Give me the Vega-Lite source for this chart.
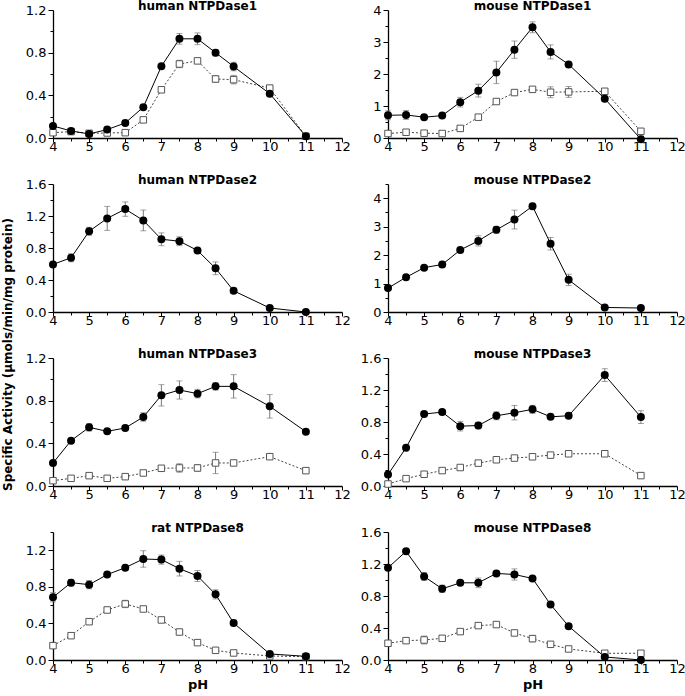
{
"$schema":"https://vega.github.io/schema/vega-lite/v6.json",
"padding":{"left":2,"top":0,"right":5,"bottom":3},
"title":{"text":"Specific Activity (µmols/min/mg protein)","orient":"left","anchor":"middle","font":"DejaVu Sans","fontSize":12,"fontWeight":"bold","color":"black","offset":10,"dx":-9},
"config":{"view":{"stroke":null},
"axis":{"domainColor":"black","domainWidth":1.3,"tickColor":"black","tickWidth":1,"labelFont":"DejaVu Sans","labelFontSize":13,"labelColor":"black","grid":false,"labelPadding":2,"titleFont":"DejaVu Sans","titleFontWeight":"bold","titleFontSize":13,"titleColor":"black","labelFlush":false,"labelOverlap":false},
"axisX":{"labelPadding":-2},
"title":{"font":"DejaVu Sans","fontSize":12,"fontWeight":"bold","color":"black","offset":-9}},
"data":{"values":[
{"panel":"h1","series":"filled","pH":4,"activity":0.113,"err":0.02},
{"panel":"h1","series":"filled","pH":4.5,"activity":0.066,"err":0},
{"panel":"h1","series":"filled","pH":5,"activity":0.038,"err":0},
{"panel":"h1","series":"filled","pH":5.5,"activity":0.079,"err":0},
{"panel":"h1","series":"filled","pH":6,"activity":0.141,"err":0},
{"panel":"h1","series":"filled","pH":6.5,"activity":0.289,"err":0},
{"panel":"h1","series":"filled","pH":7,"activity":0.672,"err":0},
{"panel":"h1","series":"filled","pH":7.5,"activity":0.93,"err":0.05},
{"panel":"h1","series":"filled","pH":8,"activity":0.93,"err":0.055},
{"panel":"h1","series":"filled","pH":8.5,"activity":0.8,"err":0.03},
{"panel":"h1","series":"filled","pH":9,"activity":0.67,"err":0.04},
{"panel":"h1","series":"filled","pH":10,"activity":0.415,"err":0.02},
{"panel":"h1","series":"filled","pH":11,"activity":0.016,"err":0},
{"panel":"h1","series":"open","pH":4,"activity":0.05,"err":0},
{"panel":"h1","series":"open","pH":4.5,"activity":0.06,"err":0},
{"panel":"h1","series":"open","pH":5,"activity":0.044,"err":0},
{"panel":"h1","series":"open","pH":5.5,"activity":0.047,"err":0},
{"panel":"h1","series":"open","pH":6,"activity":0.05,"err":0},
{"panel":"h1","series":"open","pH":6.5,"activity":0.17,"err":0},
{"panel":"h1","series":"open","pH":7,"activity":0.452,"err":0},
{"panel":"h1","series":"open","pH":7.5,"activity":0.694,"err":0.035},
{"panel":"h1","series":"open","pH":8,"activity":0.723,"err":0.02},
{"panel":"h1","series":"open","pH":8.5,"activity":0.553,"err":0.03},
{"panel":"h1","series":"open","pH":9,"activity":0.547,"err":0.04},
{"panel":"h1","series":"open","pH":10,"activity":0.468,"err":0.015},
{"panel":"h1","series":"open","pH":11,"activity":0.016,"err":0},
{"panel":"m1","series":"filled","pH":4,"activity":0.71,"err":0.14},
{"panel":"m1","series":"filled","pH":4.5,"activity":0.72,"err":0.14},
{"panel":"m1","series":"filled","pH":5,"activity":0.65,"err":0.08},
{"panel":"m1","series":"filled","pH":5.5,"activity":0.7,"err":0.05},
{"panel":"m1","series":"filled","pH":6,"activity":1.12,"err":0.15},
{"panel":"m1","series":"filled","pH":6.5,"activity":1.48,"err":0.2},
{"panel":"m1","series":"filled","pH":7,"activity":2.05,"err":0.35},
{"panel":"m1","series":"filled","pH":7.5,"activity":2.76,"err":0.27},
{"panel":"m1","series":"filled","pH":8,"activity":3.46,"err":0.17},
{"panel":"m1","series":"filled","pH":8.5,"activity":2.69,"err":0.22},
{"panel":"m1","series":"filled","pH":9,"activity":2.3,"err":0.05},
{"panel":"m1","series":"filled","pH":10,"activity":1.23,"err":0.08},
{"panel":"m1","series":"filled","pH":11,"activity":-0.04,"err":0.1},
{"panel":"m1","series":"open","pH":4,"activity":0.14,"err":0},
{"panel":"m1","series":"open","pH":4.5,"activity":0.18,"err":0},
{"panel":"m1","series":"open","pH":5,"activity":0.15,"err":0},
{"panel":"m1","series":"open","pH":5.5,"activity":0.14,"err":0},
{"panel":"m1","series":"open","pH":6,"activity":0.3,"err":0},
{"panel":"m1","series":"open","pH":6.5,"activity":0.65,"err":0},
{"panel":"m1","series":"open","pH":7,"activity":1.14,"err":0},
{"panel":"m1","series":"open","pH":7.5,"activity":1.42,"err":0.07},
{"panel":"m1","series":"open","pH":8,"activity":1.52,"err":0},
{"panel":"m1","series":"open","pH":8.5,"activity":1.43,"err":0.17},
{"panel":"m1","series":"open","pH":9,"activity":1.44,"err":0.17},
{"panel":"m1","series":"open","pH":10,"activity":1.46,"err":0.05},
{"panel":"m1","series":"open","pH":11,"activity":0.21,"err":0.08},
{"panel":"h2","series":"filled","pH":4,"activity":0.595,"err":0},
{"panel":"h2","series":"filled","pH":4.5,"activity":0.678,"err":0.05},
{"panel":"h2","series":"filled","pH":5,"activity":1.009,"err":0.05},
{"panel":"h2","series":"filled","pH":5.5,"activity":1.17,"err":0.15},
{"panel":"h2","series":"filled","pH":6,"activity":1.286,"err":0.09},
{"panel":"h2","series":"filled","pH":6.5,"activity":1.145,"err":0.13},
{"panel":"h2","series":"filled","pH":7,"activity":0.909,"err":0.08},
{"panel":"h2","series":"filled","pH":7.5,"activity":0.885,"err":0.055},
{"panel":"h2","series":"filled","pH":8,"activity":0.769,"err":0},
{"panel":"h2","series":"filled","pH":8.5,"activity":0.546,"err":0.08},
{"panel":"h2","series":"filled","pH":9,"activity":0.265,"err":0.03},
{"panel":"h2","series":"filled","pH":10,"activity":0.05,"err":0.03},
{"panel":"h2","series":"filled","pH":11,"activity":0.0,"err":0},
{"panel":"m2","series":"filled","pH":4,"activity":0.84,"err":0},
{"panel":"m2","series":"filled","pH":4.5,"activity":1.22,"err":0},
{"panel":"m2","series":"filled","pH":5,"activity":1.56,"err":0},
{"panel":"m2","series":"filled","pH":5.5,"activity":1.67,"err":0.1},
{"panel":"m2","series":"filled","pH":6,"activity":2.18,"err":0.08},
{"panel":"m2","series":"filled","pH":6.5,"activity":2.5,"err":0.18},
{"panel":"m2","series":"filled","pH":7,"activity":2.89,"err":0.12},
{"panel":"m2","series":"filled","pH":7.5,"activity":3.25,"err":0.33},
{"panel":"m2","series":"filled","pH":8,"activity":3.72,"err":0.1},
{"panel":"m2","series":"filled","pH":8.5,"activity":2.4,"err":0.22},
{"panel":"m2","series":"filled","pH":9,"activity":1.13,"err":0.2},
{"panel":"m2","series":"filled","pH":10,"activity":0.16,"err":0.05},
{"panel":"m2","series":"filled","pH":11,"activity":0.14,"err":0},
{"panel":"h3","series":"filled","pH":4,"activity":0.216,"err":0},
{"panel":"h3","series":"filled","pH":4.5,"activity":0.425,"err":0},
{"panel":"h3","series":"filled","pH":5,"activity":0.55,"err":0.035},
{"panel":"h3","series":"filled","pH":5.5,"activity":0.5125,"err":0},
{"panel":"h3","series":"filled","pH":6,"activity":0.544,"err":0},
{"panel":"h3","series":"filled","pH":6.5,"activity":0.647,"err":0.04},
{"panel":"h3","series":"filled","pH":7,"activity":0.85,"err":0.1},
{"panel":"h3","series":"filled","pH":7.5,"activity":0.9,"err":0.085},
{"panel":"h3","series":"filled","pH":8,"activity":0.866,"err":0.04},
{"panel":"h3","series":"filled","pH":8.5,"activity":0.934,"err":0.035},
{"panel":"h3","series":"filled","pH":9,"activity":0.934,"err":0.11},
{"panel":"h3","series":"filled","pH":10,"activity":0.747,"err":0.11},
{"panel":"h3","series":"filled","pH":11,"activity":0.509,"err":0},
{"panel":"h3","series":"open","pH":4,"activity":0.05,"err":0},
{"panel":"h3","series":"open","pH":4.5,"activity":0.072,"err":0},
{"panel":"h3","series":"open","pH":5,"activity":0.097,"err":0},
{"panel":"h3","series":"open","pH":5.5,"activity":0.072,"err":0},
{"panel":"h3","series":"open","pH":6,"activity":0.0875,"err":0},
{"panel":"h3","series":"open","pH":6.5,"activity":0.122,"err":0.02},
{"panel":"h3","series":"open","pH":7,"activity":0.166,"err":0.015},
{"panel":"h3","series":"open","pH":7.5,"activity":0.169,"err":0.04},
{"panel":"h3","series":"open","pH":8,"activity":0.169,"err":0.03},
{"panel":"h3","series":"open","pH":8.5,"activity":0.216,"err":0.1},
{"panel":"h3","series":"open","pH":9,"activity":0.216,"err":0},
{"panel":"h3","series":"open","pH":10,"activity":0.275,"err":0},
{"panel":"h3","series":"open","pH":11,"activity":0.144,"err":0},
{"panel":"m3","series":"filled","pH":4,"activity":0.143,"err":0.03},
{"panel":"m3","series":"filled","pH":4.5,"activity":0.479,"err":0},
{"panel":"m3","series":"filled","pH":5,"activity":0.899,"err":0},
{"panel":"m3","series":"filled","pH":5.5,"activity":0.924,"err":0},
{"panel":"m3","series":"filled","pH":6,"activity":0.748,"err":0.06},
{"panel":"m3","series":"filled","pH":6.5,"activity":0.756,"err":0.04},
{"panel":"m3","series":"filled","pH":7,"activity":0.878,"err":0.05},
{"panel":"m3","series":"filled","pH":7.5,"activity":0.916,"err":0.09},
{"panel":"m3","series":"filled","pH":8,"activity":0.958,"err":0.05},
{"panel":"m3","series":"filled","pH":8.5,"activity":0.865,"err":0},
{"panel":"m3","series":"filled","pH":9,"activity":0.878,"err":0},
{"panel":"m3","series":"filled","pH":10,"activity":1.386,"err":0.08},
{"panel":"m3","series":"filled","pH":11,"activity":0.861,"err":0.08},
{"panel":"m3","series":"open","pH":4,"activity":0.025,"err":0},
{"panel":"m3","series":"open","pH":4.5,"activity":0.092,"err":0},
{"panel":"m3","series":"open","pH":5,"activity":0.147,"err":0},
{"panel":"m3","series":"open","pH":5.5,"activity":0.193,"err":0},
{"panel":"m3","series":"open","pH":6,"activity":0.231,"err":0},
{"panel":"m3","series":"open","pH":6.5,"activity":0.286,"err":0},
{"panel":"m3","series":"open","pH":7,"activity":0.328,"err":0},
{"panel":"m3","series":"open","pH":7.5,"activity":0.349,"err":0},
{"panel":"m3","series":"open","pH":8,"activity":0.365,"err":0},
{"panel":"m3","series":"open","pH":8.5,"activity":0.386,"err":0},
{"panel":"m3","series":"open","pH":9,"activity":0.403,"err":0},
{"panel":"m3","series":"open","pH":10,"activity":0.403,"err":0},
{"panel":"m3","series":"open","pH":11,"activity":0.13,"err":0},
{"panel":"r8","series":"filled","pH":4,"activity":0.686,"err":0.05},
{"panel":"r8","series":"filled","pH":4.5,"activity":0.846,"err":0.035},
{"panel":"r8","series":"filled","pH":5,"activity":0.824,"err":0.045},
{"panel":"r8","series":"filled","pH":5.5,"activity":0.934,"err":0},
{"panel":"r8","series":"filled","pH":6,"activity":1.01,"err":0.02},
{"panel":"r8","series":"filled","pH":6.5,"activity":1.105,"err":0.09},
{"panel":"r8","series":"filled","pH":7,"activity":1.098,"err":0.05},
{"panel":"r8","series":"filled","pH":7.5,"activity":0.999,"err":0.08},
{"panel":"r8","series":"filled","pH":8,"activity":0.919,"err":0.06},
{"panel":"r8","series":"filled","pH":8.5,"activity":0.718,"err":0.05},
{"panel":"r8","series":"filled","pH":9,"activity":0.405,"err":0.03},
{"panel":"r8","series":"filled","pH":10,"activity":0.066,"err":0.02},
{"panel":"r8","series":"filled","pH":11,"activity":0.04,"err":0},
{"panel":"r8","series":"open","pH":4,"activity":0.157,"err":0},
{"panel":"r8","series":"open","pH":4.5,"activity":0.266,"err":0},
{"panel":"r8","series":"open","pH":5,"activity":0.419,"err":0},
{"panel":"r8","series":"open","pH":5.5,"activity":0.547,"err":0},
{"panel":"r8","series":"open","pH":6,"activity":0.613,"err":0.04},
{"panel":"r8","series":"open","pH":6.5,"activity":0.558,"err":0},
{"panel":"r8","series":"open","pH":7,"activity":0.438,"err":0},
{"panel":"r8","series":"open","pH":7.5,"activity":0.306,"err":0.02},
{"panel":"r8","series":"open","pH":8,"activity":0.19,"err":0},
{"panel":"r8","series":"open","pH":8.5,"activity":0.106,"err":0},
{"panel":"r8","series":"open","pH":9,"activity":0.077,"err":0},
{"panel":"r8","series":"open","pH":10,"activity":0.044,"err":0},
{"panel":"r8","series":"open","pH":11,"activity":0.036,"err":0},
{"panel":"m8","series":"filled","pH":4,"activity":1.153,"err":0},
{"panel":"m8","series":"filled","pH":4.5,"activity":1.358,"err":0},
{"panel":"m8","series":"filled","pH":5,"activity":1.044,"err":0.05},
{"panel":"m8","series":"filled","pH":5.5,"activity":0.89,"err":0.045},
{"panel":"m8","series":"filled","pH":6,"activity":0.965,"err":0.03},
{"panel":"m8","series":"filled","pH":6.5,"activity":0.965,"err":0.06},
{"panel":"m8","series":"filled","pH":7,"activity":1.082,"err":0.03},
{"panel":"m8","series":"filled","pH":7.5,"activity":1.069,"err":0.07},
{"panel":"m8","series":"filled","pH":8,"activity":1.019,"err":0},
{"panel":"m8","series":"filled","pH":8.5,"activity":0.693,"err":0},
{"panel":"m8","series":"filled","pH":9,"activity":0.422,"err":0},
{"panel":"m8","series":"filled","pH":10,"activity":0.038,"err":0},
{"panel":"m8","series":"filled","pH":11,"activity":0.0,"err":0},
{"panel":"m8","series":"open","pH":4,"activity":0.209,"err":0},
{"panel":"m8","series":"open","pH":4.5,"activity":0.242,"err":0},
{"panel":"m8","series":"open","pH":5,"activity":0.25,"err":0.05},
{"panel":"m8","series":"open","pH":5.5,"activity":0.271,"err":0},
{"panel":"m8","series":"open","pH":6,"activity":0.355,"err":0},
{"panel":"m8","series":"open","pH":6.5,"activity":0.43,"err":0},
{"panel":"m8","series":"open","pH":7,"activity":0.443,"err":0},
{"panel":"m8","series":"open","pH":7.5,"activity":0.338,"err":0.03},
{"panel":"m8","series":"open","pH":8,"activity":0.267,"err":0.04},
{"panel":"m8","series":"open","pH":8.5,"activity":0.196,"err":0},
{"panel":"m8","series":"open","pH":9,"activity":0.138,"err":0.02},
{"panel":"m8","series":"open","pH":10,"activity":0.084,"err":0},
{"panel":"m8","series":"open","pH":11,"activity":0.084,"err":0}
]},
"spacing":21,
"vconcat":[
{"bounds":"flush","spacing":46,"hconcat":[
{"title":"human NTPDase1","width":289,"height":128,"transform":[{"filter":"datum.panel === 'h1'"}],
"encoding":{"x":{"field":"pH","type":"quantitative","scale":{"domain":[4,12],"nice":false,"zero":false},"axis":{"title":null,"values":[4,4.5,5,5.5,6,6.5,7,7.5,8,8.5,9,9.5,10,10.5,11,11.5,12],"labelExpr":"datum.value % 1 === 0 ? format(datum.value,'d') : ''","tickSize":{"condition":{"test":"datum.value % 1 === 0","value":4},"value":3}}},
"y":{"field":"activity","type":"quantitative","scale":{"domain":[0,1.2],"nice":false,"zero":false},"axis":{"title":null,"values":[0,0.2,0.4,0.6,0.8,1.0,1.2],"labelExpr":"round(datum.value*10) % 4 === 0 ? format(datum.value,'.1f') : ''","tickSize":{"condition":{"test":"round(datum.value*10) % 4 === 0","value":5},"value":3}}}},
"layer":[
{"transform":[{"filter":"datum.err > 0"}],"mark":{"type":"errorbar","ticks":{"size":6},"color":"#7a7a7a"},"encoding":{"yError":{"field":"err"}}},
{"transform":[{"filter":"datum.series === 'open'"}],"mark":{"type":"line","color":"#444","strokeWidth":1,"strokeDash":[2,2]}},
{"transform":[{"filter":"datum.series === 'filled'"}],"mark":{"type":"line","color":"black","strokeWidth":1}},
{"transform":[{"filter":"datum.series === 'open'"}],"mark":{"type":"point","shape":"square","filled":true,"fill":"white","stroke":"#555","strokeWidth":1,"size":42,"opacity":1}},
{"transform":[{"filter":"datum.series === 'filled'"}],"mark":{"type":"point","shape":"circle","filled":true,"color":"black","size":64,"opacity":1}}]},
{"title":"mouse NTPDase1","width":289,"height":128,"transform":[{"filter":"datum.panel === 'm1'"}],
"encoding":{"x":{"field":"pH","type":"quantitative","scale":{"domain":[4,12],"nice":false,"zero":false},"axis":{"title":null,"values":[4,4.5,5,5.5,6,6.5,7,7.5,8,8.5,9,9.5,10,10.5,11,11.5,12],"labelExpr":"datum.value % 1 === 0 ? format(datum.value,'d') : ''","tickSize":{"condition":{"test":"datum.value % 1 === 0","value":4},"value":3}}},
"y":{"field":"activity","type":"quantitative","scale":{"domain":[0,4],"nice":false,"zero":false},"axis":{"title":null,"values":[0,0.5,1,1.5,2,2.5,3,3.5,4],"labelExpr":"datum.value % 1 === 0 ? format(datum.value,'d') : ''","tickSize":{"condition":{"test":"datum.value % 1 === 0","value":5},"value":3}}}},
"layer":[
{"transform":[{"filter":"datum.err > 0"}],"mark":{"type":"errorbar","ticks":{"size":6},"color":"#7a7a7a"},"encoding":{"yError":{"field":"err"}}},
{"transform":[{"filter":"datum.series === 'open'"}],"mark":{"type":"line","color":"#444","strokeWidth":1,"strokeDash":[2,2]}},
{"transform":[{"filter":"datum.series === 'filled'"}],"mark":{"type":"line","color":"black","strokeWidth":1}},
{"transform":[{"filter":"datum.series === 'open'"}],"mark":{"type":"point","shape":"square","filled":true,"fill":"white","stroke":"#555","strokeWidth":1,"size":42,"opacity":1}},
{"transform":[{"filter":"datum.series === 'filled'"}],"mark":{"type":"point","shape":"circle","filled":true,"color":"black","size":64,"opacity":1}}]}
]},
{"bounds":"flush","spacing":46,"hconcat":[
{"title":"human NTPDase2","width":289,"height":128,"transform":[{"filter":"datum.panel === 'h2'"}],
"encoding":{"x":{"field":"pH","type":"quantitative","scale":{"domain":[4,12],"nice":false,"zero":false},"axis":{"title":null,"values":[4,4.5,5,5.5,6,6.5,7,7.5,8,8.5,9,9.5,10,10.5,11,11.5,12],"labelExpr":"datum.value % 1 === 0 ? format(datum.value,'d') : ''","tickSize":{"condition":{"test":"datum.value % 1 === 0","value":4},"value":3}}},
"y":{"field":"activity","type":"quantitative","scale":{"domain":[0,1.6],"nice":false,"zero":false},"axis":{"title":null,"values":[0,0.2,0.4,0.6,0.8,1.0,1.2,1.4,1.6],"labelExpr":"round(datum.value*10) % 4 === 0 ? format(datum.value,'.1f') : ''","tickSize":{"condition":{"test":"round(datum.value*10) % 4 === 0","value":5},"value":3}}}},
"layer":[
{"transform":[{"filter":"datum.err > 0"}],"mark":{"type":"errorbar","ticks":{"size":6},"color":"#7a7a7a"},"encoding":{"yError":{"field":"err"}}},
{"transform":[{"filter":"datum.series === 'filled'"}],"mark":{"type":"line","color":"black","strokeWidth":1}},
{"transform":[{"filter":"datum.series === 'filled'"}],"mark":{"type":"point","shape":"circle","filled":true,"color":"black","size":64,"opacity":1}}]},
{"title":"mouse NTPDase2","width":289,"height":128,"transform":[{"filter":"datum.panel === 'm2'"}],
"encoding":{"x":{"field":"pH","type":"quantitative","scale":{"domain":[4,12],"nice":false,"zero":false},"axis":{"title":null,"values":[4,4.5,5,5.5,6,6.5,7,7.5,8,8.5,9,9.5,10,10.5,11,11.5,12],"labelExpr":"datum.value % 1 === 0 ? format(datum.value,'d') : ''","tickSize":{"condition":{"test":"datum.value % 1 === 0","value":4},"value":3}}},
"y":{"field":"activity","type":"quantitative","scale":{"domain":[0,4.5],"nice":false,"zero":false},"axis":{"title":null,"values":[0,0.5,1,1.5,2,2.5,3,3.5,4,4.5],"labelExpr":"datum.value % 1 === 0 ? format(datum.value,'d') : ''","tickSize":{"condition":{"test":"datum.value % 1 === 0","value":5},"value":3}}}},
"layer":[
{"transform":[{"filter":"datum.err > 0"}],"mark":{"type":"errorbar","ticks":{"size":6},"color":"#7a7a7a"},"encoding":{"yError":{"field":"err"}}},
{"transform":[{"filter":"datum.series === 'filled'"}],"mark":{"type":"line","color":"black","strokeWidth":1}},
{"transform":[{"filter":"datum.series === 'filled'"}],"mark":{"type":"point","shape":"circle","filled":true,"color":"black","size":64,"opacity":1}}]}
]},
{"bounds":"flush","spacing":46,"hconcat":[
{"title":"human NTPDase3","width":289,"height":128,"transform":[{"filter":"datum.panel === 'h3'"}],
"encoding":{"x":{"field":"pH","type":"quantitative","scale":{"domain":[4,12],"nice":false,"zero":false},"axis":{"title":null,"values":[4,4.5,5,5.5,6,6.5,7,7.5,8,8.5,9,9.5,10,10.5,11,11.5,12],"labelExpr":"datum.value % 1 === 0 ? format(datum.value,'d') : ''","tickSize":{"condition":{"test":"datum.value % 1 === 0","value":4},"value":3}}},
"y":{"field":"activity","type":"quantitative","scale":{"domain":[0,1.2],"nice":false,"zero":false},"axis":{"title":null,"values":[0,0.2,0.4,0.6,0.8,1.0,1.2],"labelExpr":"round(datum.value*10) % 4 === 0 ? format(datum.value,'.1f') : ''","tickSize":{"condition":{"test":"round(datum.value*10) % 4 === 0","value":5},"value":3}}}},
"layer":[
{"transform":[{"filter":"datum.err > 0"}],"mark":{"type":"errorbar","ticks":{"size":6},"color":"#7a7a7a"},"encoding":{"yError":{"field":"err"}}},
{"transform":[{"filter":"datum.series === 'open'"}],"mark":{"type":"line","color":"#444","strokeWidth":1,"strokeDash":[2,2]}},
{"transform":[{"filter":"datum.series === 'filled'"}],"mark":{"type":"line","color":"black","strokeWidth":1}},
{"transform":[{"filter":"datum.series === 'open'"}],"mark":{"type":"point","shape":"square","filled":true,"fill":"white","stroke":"#555","strokeWidth":1,"size":42,"opacity":1}},
{"transform":[{"filter":"datum.series === 'filled'"}],"mark":{"type":"point","shape":"circle","filled":true,"color":"black","size":64,"opacity":1}}]},
{"title":"mouse NTPDase3","width":289,"height":128,"transform":[{"filter":"datum.panel === 'm3'"}],
"encoding":{"x":{"field":"pH","type":"quantitative","scale":{"domain":[4,12],"nice":false,"zero":false},"axis":{"title":null,"values":[4,4.5,5,5.5,6,6.5,7,7.5,8,8.5,9,9.5,10,10.5,11,11.5,12],"labelExpr":"datum.value % 1 === 0 ? format(datum.value,'d') : ''","tickSize":{"condition":{"test":"datum.value % 1 === 0","value":4},"value":3}}},
"y":{"field":"activity","type":"quantitative","scale":{"domain":[0,1.6],"nice":false,"zero":false},"axis":{"title":null,"values":[0,0.2,0.4,0.6,0.8,1.0,1.2,1.4,1.6],"labelExpr":"round(datum.value*10) % 4 === 0 ? format(datum.value,'.1f') : ''","tickSize":{"condition":{"test":"round(datum.value*10) % 4 === 0","value":5},"value":3}}}},
"layer":[
{"transform":[{"filter":"datum.err > 0"}],"mark":{"type":"errorbar","ticks":{"size":6},"color":"#7a7a7a"},"encoding":{"yError":{"field":"err"}}},
{"transform":[{"filter":"datum.series === 'open'"}],"mark":{"type":"line","color":"#444","strokeWidth":1,"strokeDash":[2,2]}},
{"transform":[{"filter":"datum.series === 'filled'"}],"mark":{"type":"line","color":"black","strokeWidth":1}},
{"transform":[{"filter":"datum.series === 'open'"}],"mark":{"type":"point","shape":"square","filled":true,"fill":"white","stroke":"#555","strokeWidth":1,"size":42,"opacity":1}},
{"transform":[{"filter":"datum.series === 'filled'"}],"mark":{"type":"point","shape":"circle","filled":true,"color":"black","size":64,"opacity":1}}]}
]},
{"bounds":"flush","spacing":46,"hconcat":[
{"title":"rat NTPDase8","width":289,"height":128,"transform":[{"filter":"datum.panel === 'r8'"}],
"encoding":{"x":{"field":"pH","type":"quantitative","scale":{"domain":[4,12],"nice":false,"zero":false},"axis":{"title":"pH","titlePadding":3,"values":[4,4.5,5,5.5,6,6.5,7,7.5,8,8.5,9,9.5,10,10.5,11,11.5,12],"labelExpr":"datum.value % 1 === 0 ? format(datum.value,'d') : ''","tickSize":{"condition":{"test":"datum.value % 1 === 0","value":4},"value":3}}},
"y":{"field":"activity","type":"quantitative","scale":{"domain":[0,1.4],"nice":false,"zero":false},"axis":{"title":null,"values":[0,0.2,0.4,0.6,0.8,1.0,1.2,1.4],"labelExpr":"round(datum.value*10) % 4 === 0 ? format(datum.value,'.1f') : ''","tickSize":{"condition":{"test":"round(datum.value*10) % 4 === 0","value":5},"value":3}}}},
"layer":[
{"transform":[{"filter":"datum.err > 0"}],"mark":{"type":"errorbar","ticks":{"size":6},"color":"#7a7a7a"},"encoding":{"yError":{"field":"err"}}},
{"transform":[{"filter":"datum.series === 'open'"}],"mark":{"type":"line","color":"#444","strokeWidth":1,"strokeDash":[2,2]}},
{"transform":[{"filter":"datum.series === 'filled'"}],"mark":{"type":"line","color":"black","strokeWidth":1}},
{"transform":[{"filter":"datum.series === 'open'"}],"mark":{"type":"point","shape":"square","filled":true,"fill":"white","stroke":"#555","strokeWidth":1,"size":42,"opacity":1}},
{"transform":[{"filter":"datum.series === 'filled'"}],"mark":{"type":"point","shape":"circle","filled":true,"color":"black","size":64,"opacity":1}}]},
{"title":"mouse NTPDase8","width":289,"height":128,"transform":[{"filter":"datum.panel === 'm8'"}],
"encoding":{"x":{"field":"pH","type":"quantitative","scale":{"domain":[4,12],"nice":false,"zero":false},"axis":{"title":"pH","titlePadding":3,"values":[4,4.5,5,5.5,6,6.5,7,7.5,8,8.5,9,9.5,10,10.5,11,11.5,12],"labelExpr":"datum.value % 1 === 0 ? format(datum.value,'d') : ''","tickSize":{"condition":{"test":"datum.value % 1 === 0","value":4},"value":3}}},
"y":{"field":"activity","type":"quantitative","scale":{"domain":[0,1.6],"nice":false,"zero":false},"axis":{"title":null,"values":[0,0.2,0.4,0.6,0.8,1.0,1.2,1.4,1.6],"labelExpr":"round(datum.value*10) % 4 === 0 ? format(datum.value,'.1f') : ''","tickSize":{"condition":{"test":"round(datum.value*10) % 4 === 0","value":5},"value":3}}}},
"layer":[
{"transform":[{"filter":"datum.err > 0"}],"mark":{"type":"errorbar","ticks":{"size":6},"color":"#7a7a7a"},"encoding":{"yError":{"field":"err"}}},
{"transform":[{"filter":"datum.series === 'open'"}],"mark":{"type":"line","color":"#444","strokeWidth":1,"strokeDash":[2,2]}},
{"transform":[{"filter":"datum.series === 'filled'"}],"mark":{"type":"line","color":"black","strokeWidth":1}},
{"transform":[{"filter":"datum.series === 'open'"}],"mark":{"type":"point","shape":"square","filled":true,"fill":"white","stroke":"#555","strokeWidth":1,"size":42,"opacity":1}},
{"transform":[{"filter":"datum.series === 'filled'"}],"mark":{"type":"point","shape":"circle","filled":true,"color":"black","size":64,"opacity":1}}]}
]}
]
}
